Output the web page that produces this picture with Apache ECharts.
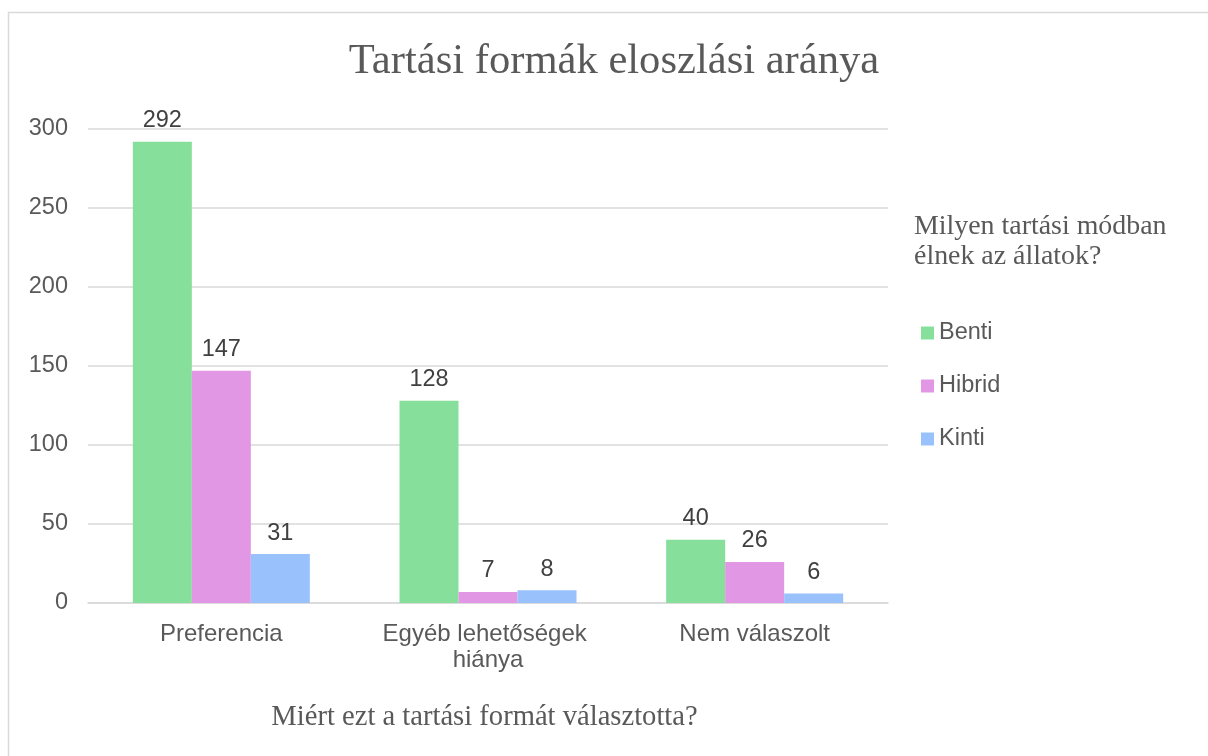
<!DOCTYPE html>
<html>
<head>
<meta charset="utf-8">
<script src="https://cdn.jsdelivr.net/npm/echarts@6/dist/echarts.min.js"></script>
<style>
html,body{margin:0;padding:0;background:#fff;}
#chart{width:1208px;height:756px;}
</style>
</head>
<body>
<div id="chart"></div>
<script>
const chartTitle = 'Tartási formák eloszlási aránya';
const legendTitle = 'Milyen tartási módban\nélnek az állatok?';
const xAxisName = 'Miért ezt a tartási formát választotta?';
const categories = ['Preferencia', 'Egyéb lehetőségek hiánya', 'Nem válaszolt'];
const seriesNames = ['Benti', 'Hibrid', 'Kinti'];
const benti = [292, 128, 40];
const hibrid = [147, 7, 26];
const kinti = [31, 8, 6];
const colors = ['#86E09B', '#E297E5', '#99C2FC'];

const serif = 'Liberation Serif, Times New Roman, serif';
const sans = 'Liberation Sans, Arial, sans-serif';
const textGrey = '#595959';

const chart = echarts.init(document.getElementById('chart'));
const values = [benti, hibrid, kinti];
chart.setOption({
  animation: false,
  backgroundColor: '#fff',
  color: colors,
  graphic: [{
    type: 'rect',
    shape: {x: 8.5, y: 12.5, width: 1400, height: 900},
    style: {fill: 'none', stroke: '#d9d9d9', lineWidth: 1.5},
    silent: true
  }],
  title: [
    {text: chartTitle, left: 614, top: 41, textAlign: 'center', padding: 0,
     textStyle: {fontFamily: serif, fontSize: 42.6, lineHeight: 42, fontWeight: 'normal', color: textGrey}},
    {text: legendTitle, left: 914, top: 212, padding: 0,
     textStyle: {fontFamily: serif, fontSize: 27.9, lineHeight: 30, fontWeight: 'normal', color: textGrey}},
    {text: xAxisName, left: 484.5, top: 703, textAlign: 'center', padding: 0,
     textStyle: {fontFamily: serif, fontSize: 28.6, lineHeight: 28, fontWeight: 'normal', color: textGrey}}
  ],
  legend: {
    orient: 'vertical', left: 921, top: 321, padding: 0,
    itemWidth: 13, itemHeight: 13, itemGap: 29, icon: 'rect',
    data: seriesNames,
    textStyle: {fontFamily: sans, fontSize: 23.5, lineHeight: 23, color: textGrey, padding: [0, 0, 0, 0]}
  },
  grid: {left: 88, right: 320, top: 129, bottom: 153, containLabel: false},
  xAxis: {
    type: 'category', data: categories,
    axisLine: {lineStyle: {color: '#d9d9d9', width: 1.5}},
    axisTick: {show: false},
    axisLabel: {fontFamily: sans, fontSize: 24, lineHeight: 26, color: textGrey, margin: 18,
                width: 250, overflow: 'break', interval: 0}
  },
  yAxis: {
    type: 'value', min: 0, max: 300, interval: 50,
    axisLine: {show: false}, axisTick: {show: false},
    axisLabel: {fontFamily: sans, fontSize: 23.5, color: textGrey, margin: 20, padding: [6, 0, 0, 0]},
    splitLine: {lineStyle: {color: '#d9d9d9', width: 1.5}}
  },
  series: seriesNames.map((n, i) => ({
    name: n, type: 'bar', data: values[i],
    barWidth: 59, barGap: '0%',
    itemStyle: {color: colors[i]},
    label: {show: true, position: 'top', distance: 9, fontFamily: sans, fontSize: 23.5, color: '#404040'}
  }))
});
</script>
</body>
</html>
